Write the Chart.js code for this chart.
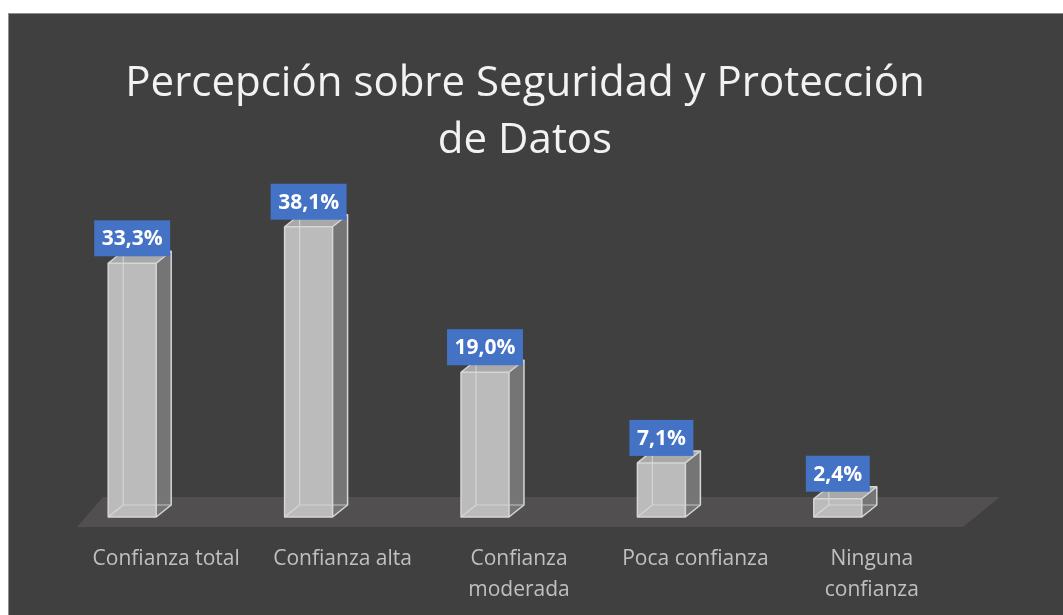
<!DOCTYPE html>
<html>
<head>
<meta charset="utf-8">
<script src="https://cdn.jsdelivr.net/npm/chart.js@4/dist/chart.umd.min.js"></script>
<style>
  html, body { margin: 0; padding: 0; background: #ffffff; }
  #frame { position: absolute; left: 8px; top: 13px; width: 1055px; height: 602px;
           background: #404040; border-top: 1px solid #8e8e8e; border-left: 1px solid #8e8e8e; box-sizing: border-box; }
  canvas { display: block; }
</style>
</head>
<body>
<div id="frame"><canvas id="c" width="1054" height="601"></canvas></div>
<script>
const titleLines = ['Percepción sobre Seguridad y Protección', 'de Datos'];
const categories = ['Confianza total', 'Confianza alta', ['Confianza', 'moderada'], 'Poca confianza', ['Ninguna', 'confianza']];
const values = [33.3, 38.1, 19.0, 7.1, 2.4];

function fmt(v) { return v.toFixed(1).replace('.', ',') + '%'; }

const DX = 15, DY = 12;

const floorPlugin = {
  id: 'floor3d',
  beforeDatasetsDraw(chart) {
    const ctx = chart.ctx, a = chart.chartArea;
    const z = chart.scales.y.getPixelForValue(0);
    ctx.save();
    ctx.fillStyle = '#524f50';
    ctx.beginPath();
    ctx.moveTo(a.left + 59, z - 20);
    ctx.lineTo(a.right + 74, z - 20);
    ctx.lineTo(a.right + 37, z + 10);
    ctx.lineTo(a.left + 33, z + 10);
    ctx.closePath();
    ctx.fill();
    ctx.restore();
  }
};

const boxPlugin = {
  id: 'box3d',
  afterDatasetsDraw(chart) {
    const ctx = chart.ctx;
    const meta = chart.getDatasetMeta(0);
    meta.data.forEach((el, i) => {
      const p = el.getProps(['x', 'y', 'base', 'width'], true);
      const L = p.x - p.width / 2, R = p.x + p.width / 2, T = p.y, B = p.base;
      ctx.save();
      ctx.lineJoin = 'round';
      // side face
      ctx.fillStyle = 'rgba(120,120,120,0.95)';
      ctx.beginPath();
      ctx.moveTo(R, B); ctx.lineTo(R + DX, B - DY); ctx.lineTo(R + DX, T - DY); ctx.lineTo(R, T); ctx.closePath();
      ctx.fill();
      // top face
      ctx.fillStyle = '#a9a9a9';
      ctx.beginPath();
      ctx.moveTo(L, T); ctx.lineTo(L + DX, T - DY); ctx.lineTo(R + DX, T - DY); ctx.lineTo(R, T); ctx.closePath();
      ctx.fill();
      // front face
      ctx.fillStyle = '#bbbbbb';
      ctx.fillRect(L, T, R - L, B - T);
      // hidden back edges (glass look)
      ctx.strokeStyle = 'rgba(222,222,222,0.75)';
      ctx.lineWidth = 1.2;
      ctx.beginPath();
      ctx.moveTo(L + DX, T - DY); ctx.lineTo(L + DX, B - DY); ctx.lineTo(R + DX, B - DY);
      ctx.moveTo(L + DX, B - DY); ctx.lineTo(L, B);
      ctx.stroke();
      // visible edges
      ctx.strokeStyle = '#d6d6d6';
      ctx.lineWidth = 1.5;
      ctx.beginPath();
      ctx.rect(L, T, R - L, B - T);
      ctx.moveTo(L, T); ctx.lineTo(L + DX, T - DY); ctx.lineTo(R + DX, T - DY); ctx.lineTo(R, T);
      ctx.moveTo(R + DX, T - DY); ctx.lineTo(R + DX, B - DY); ctx.lineTo(R, B);
      ctx.stroke();
      // data label
      const txt = fmt(values[i]);
      ctx.font = 'bold 21px "Open Sans"';
      const tw = ctx.measureText(txt).width;
      const bw = tw + 15, bh = 36;
      const bx = p.x - bw / 2, by = T - 7 - bh;
      ctx.fillStyle = '#4472c4';
      ctx.fillRect(bx, by, bw, bh);
      ctx.fillStyle = '#ffffff';
      ctx.textAlign = 'center';
      ctx.textBaseline = 'middle';
      ctx.fillText(txt, p.x, by + bh / 2 + 1);
      ctx.restore();
    });
  }
};

new Chart(document.getElementById('c'), {
  type: 'bar',
  data: {
    labels: categories,
    datasets: [{
      data: values,
      backgroundColor: 'rgba(0,0,0,0)',
      borderWidth: 0,
      categoryPercentage: 1,
      barPercentage: 0.272
    }]
  },
  options: {
    responsive: false,
    animation: false,
    devicePixelRatio: 1,
    layout: { padding: { left: 0, right: 22, top: 0, bottom: 0 } },
    plugins: {
      legend: { display: false },
      tooltip: { enabled: false },
      title: {
        display: true,
        text: titleLines,
        color: '#f2f2f2',
        font: { family: 'Open Sans', size: 42, weight: 'normal', lineHeight: 1.36 },
        padding: { top: 41, bottom: 43 }
      }
    },
    scales: {
      x: {
        grid: { display: false, drawTicks: false },
        border: { display: false },
        ticks: {
          color: '#c0c0c0',
          font: { family: 'Open Sans', size: 21, lineHeight: 1.48 },
          padding: 26,
          labelOffset: 34,
          maxRotation: 0,
          autoSkip: false
        },
        afterFit: s => { s.height = 98; }
      },
      y: {
        min: 0, max: 40,
        grid: { display: false, drawTicks: false },
        border: { display: false },
        ticks: { display: false },
        afterFit: s => { s.width = 35; }
      },
      yR: {
        type: 'linear',
        position: 'right',
        grid: { display: false, drawTicks: false },
        border: { display: false },
        ticks: { display: false },
        afterFit: s => { s.width = 115; }
      }
    }
  },
  plugins: [floorPlugin, boxPlugin]
});
</script>
</body>
</html>
